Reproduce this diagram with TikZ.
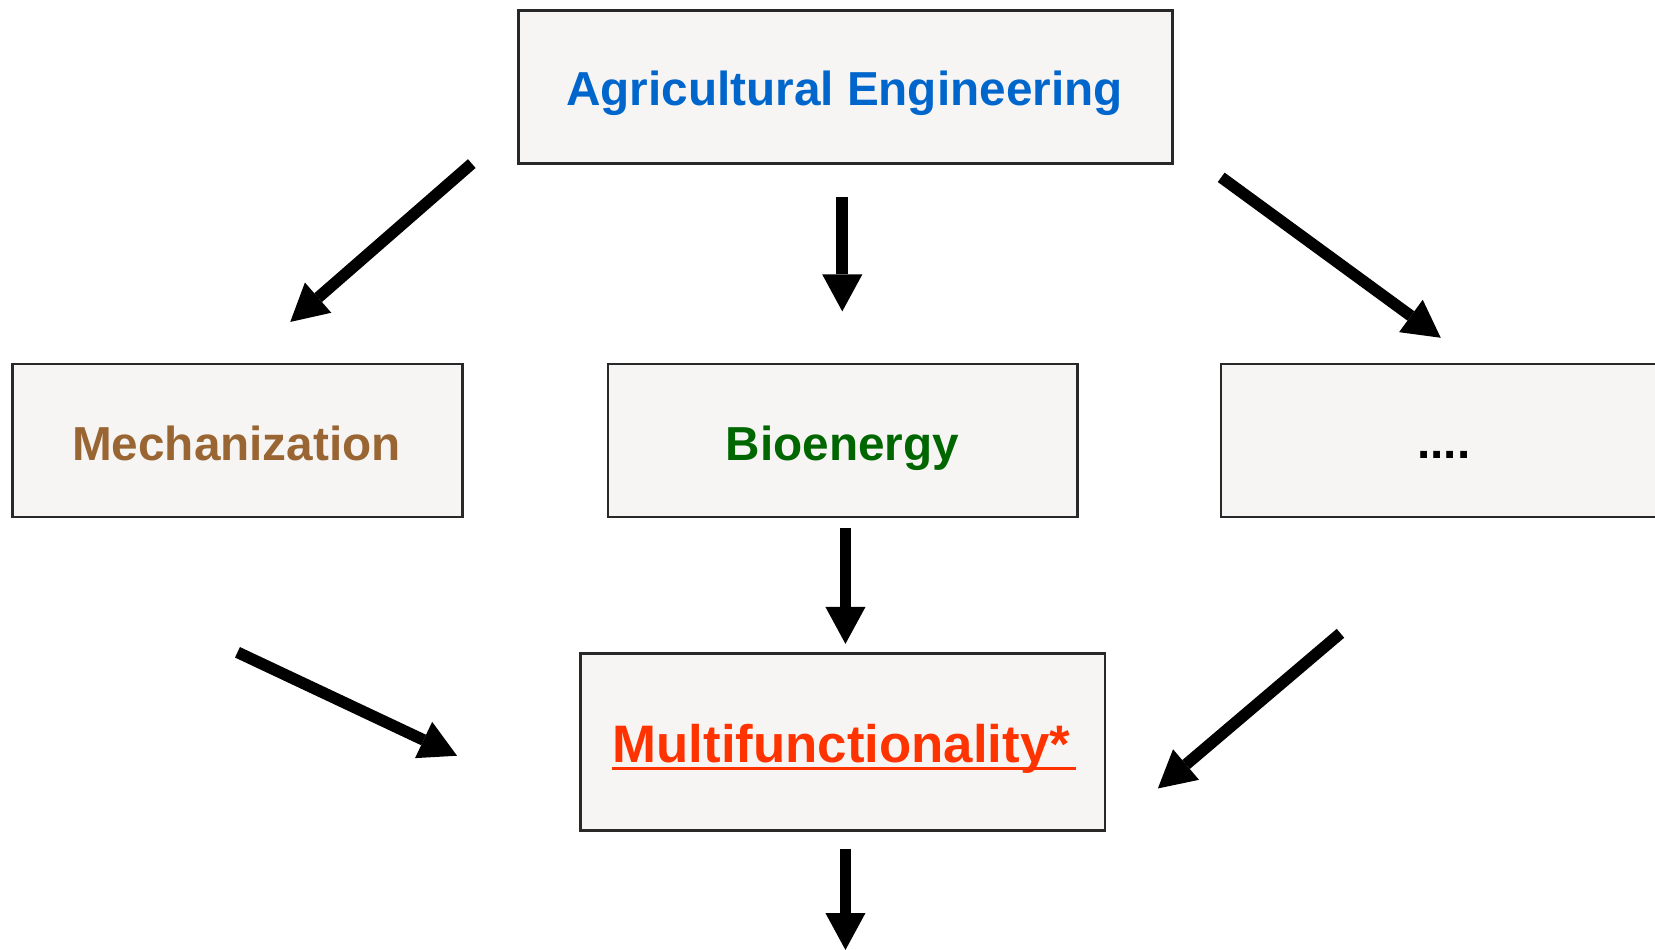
\documentclass[tikz,border=0pt]{standalone}
\usepackage{fontspec}
\setmainfont{Liberation Sans}
\usetikzlibrary{arrows.meta}
\definecolor{agblue}{RGB}{0,102,204}
\definecolor{mechbrown}{RGB}{153,102,51}
\definecolor{biogreen}{RGB}{0,102,0}
\definecolor{multired}{RGB}{255,51,0}
\definecolor{paper}{RGB}{247,245,244}
\definecolor{frame}{RGB}{40,40,40}
\tikzset{
  box/.style={draw=frame, line width=1.2bp, fill=paper, inner sep=0pt},
  lbl/.style={anchor=base, inner sep=0pt, font=\bfseries\fontsize{22.6bp}{26bp}\selectfont},
  bigarrow/.style={line width=5.5bp, -{Triangle[length=17.5bp,width=19bp,line width=0pt]}},
}
\begin{document}
\begin{tikzpicture}[x=0.5bp,y=-0.5bp]
\useasboundingbox (0,0) rectangle (1568,900);
\clip (0,0) rectangle (1568,900);
% boxes
\node[box, minimum width=310bp, minimum height=72.5bp] (top) at (801,82.5) {};
\node[box, minimum width=213bp, minimum height=72.5bp] (mech) at (225,417.5) {};
\node[box, minimum width=222.5bp, minimum height=72.5bp] (bio) at (798.5,417.5) {};
\node[box, minimum width=240bp, minimum height=72.5bp] (dots) at (1397,417.5) {};
\node[box, minimum width=248.5bp, minimum height=84bp] (multi) at (798.5,703) {};
% labels
\node[lbl, text=agblue] (toplbl) at (800,100) {Agricultural Engineering};
\node[lbl, text=mechbrown] (mechlbl) at (224,436) {Mechanization};
\node[lbl, text=biogreen] (biolbl) at (798,436) {Bioenergy};
\node[lbl, text=black] (dotslbl) at (1368,434) {....};
\node[lbl, text=multired, font=\bfseries\fontsize{25bp}{29bp}\selectfont] (multilbl) at (797,722) {Multifunctionality*};
\draw[multired, line width=1.5bp] ([yshift=-3bp]multilbl.base west) -- ([xshift=2.5bp,yshift=-3bp]multilbl.base east);
% arrow endpoints
\coordinate (a1s) at (447,155);  \coordinate (a1e) at (275,305);
\coordinate (a2s) at (798,187);  \coordinate (a2e) at (798,295);
\coordinate (a3s) at (1157,168); \coordinate (a3e) at (1365,320);
\coordinate (a4s) at (801,500);  \coordinate (a4e) at (801,610);
\coordinate (a5s) at (225,618);  \coordinate (a5e) at (433,716);
\coordinate (a6s) at (1270,600); \coordinate (a6e) at (1097,747);
\coordinate (a7s) at (801,804);  \coordinate (a7e) at (801,900);
\draw[bigarrow] (a1s) -- (a1e);
\draw[bigarrow] (a2s) -- (a2e);
\draw[bigarrow] (a3s) -- (a3e);
\draw[bigarrow] (a4s) -- (a4e);
\draw[bigarrow] (a5s) -- (a5e);
\draw[bigarrow] (a6s) -- (a6e);
\draw[bigarrow] (a7s) -- (a7e);
\end{tikzpicture}
\end{document}
